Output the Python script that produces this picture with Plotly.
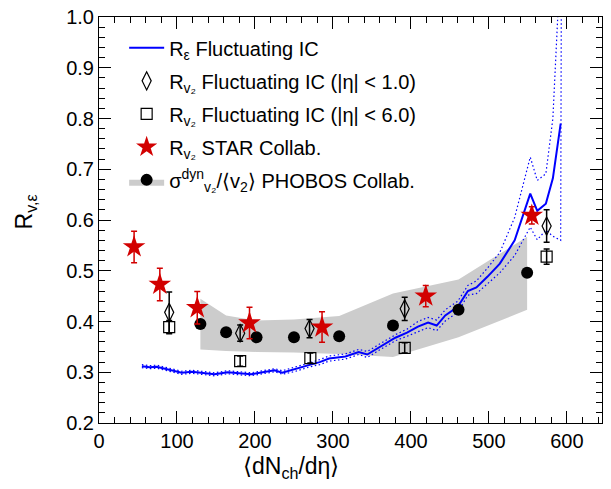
import plotly.graph_objects as go

# ---- data ----
eps_x = [55, 65, 74, 85, 96, 106, 119, 133, 148, 165, 180, 195, 210, 225, 235, 250, 269, 283, 295,
         316, 333, 344, 363, 380, 395, 409, 422, 433, 444, 460, 473, 484, 498, 514, 533, 553, 562,
         573, 582, 592]
eps_y = [0.312, 0.310, 0.311, 0.307, 0.303, 0.299, 0.301, 0.298, 0.296, 0.300, 0.298, 0.296, 0.300,
         0.304, 0.299, 0.305, 0.314, 0.320, 0.327, 0.331, 0.340, 0.335, 0.353, 0.368, 0.378, 0.390,
         0.398, 0.392, 0.412, 0.429, 0.460, 0.467, 0.488, 0.514, 0.560, 0.652, 0.618, 0.632, 0.682,
         0.790]
eps_up = [0.315, 0.313, 0.314, 0.310, 0.306, 0.302, 0.304, 0.301, 0.299, 0.303, 0.301, 0.299, 0.303,
          0.307, 0.303, 0.309, 0.318, 0.325, 0.332, 0.336, 0.345, 0.341, 0.359, 0.374, 0.385, 0.400,
          0.408, 0.403, 0.423, 0.440, 0.471, 0.480, 0.505, 0.536, 0.605, 0.724, 0.678, 0.691, 0.800,
          1.120]
eps_lo_x = eps_x + [593]
eps_lo = [0.309, 0.307, 0.308, 0.304, 0.300, 0.296, 0.298, 0.295, 0.293, 0.297, 0.295, 0.293, 0.297,
          0.301, 0.296, 0.301, 0.310, 0.315, 0.322, 0.326, 0.335, 0.329, 0.347, 0.362, 0.371, 0.380,
          0.388, 0.382, 0.401, 0.418, 0.452, 0.455, 0.475, 0.496, 0.530, 0.586, 0.561, 0.580, 0.568,
          0.560, 1.120]

star_x = [45, 78, 126, 193, 286, 419, 555]
star_y = [0.547, 0.473, 0.427, 0.397, 0.389, 0.450, 0.609]
star_err = [0.031, 0.032, 0.032, 0.031, 0.030, 0.021, 0.017]

eta1_x = [90, 181, 270, 392, 574]
eta1_y = [0.418, 0.377, 0.386, 0.425, 0.588]
eta1_err = [0.040, 0.016, 0.018, 0.023, 0.032]

eta6_x = [90, 181, 271, 392, 574]
eta6_y = [0.389, 0.322, 0.328, 0.348, 0.528]
eta6_err = [0.013, 0.010, 0.010, 0.010, 0.015]

phobos_x = [130, 163, 202, 250, 308, 377, 461, 549]
phobos_y = [0.395, 0.379, 0.369, 0.369, 0.371, 0.392, 0.423, 0.496]
phobos_hi = [0.445, 0.412, 0.402, 0.404, 0.411, 0.455, 0.483, 0.567]
phobos_lo = [0.345, 0.342, 0.340, 0.339, 0.336, 0.330, 0.369, 0.423]

FONT = "Arial"
BLUE = "rgb(0,0,255)"
RED = "rgb(210,0,0)"
GRAY = "rgb(204,204,204)"

fig = go.Figure()

# PHOBOS band (first point is an off-axis legend helper, then the polygon)
band_x = [-100, None] + phobos_x + phobos_x[::-1]
band_y = [-1, None] + phobos_hi + phobos_lo[::-1]
band_colors = ["black"] + ["rgba(0,0,0,0)"] * (len(band_x) - 1)
fig.add_trace(go.Scatter(
    x=band_x, y=band_y, mode="markers", fill="toself", fillcolor=GRAY,
    marker=dict(color=band_colors, size=12, line=dict(width=0)),
    name="σ<sup>dyn</sup><sub>v₂</sub>/⟨v<sub>2</sub>⟩ PHOBOS Collab.",
    legendrank=5, legendgroup="g5", hoverinfo="skip"))

fig.add_trace(go.Scatter(x=eps_x, y=eps_up, mode="lines",
                         line=dict(color=BLUE, width=1.2, dash="1.5px,2.5px"), showlegend=False))
fig.add_trace(go.Scatter(x=eps_lo_x, y=eps_lo, mode="lines",
                         line=dict(color=BLUE, width=1.2, dash="1.5px,2.5px"), showlegend=False))
fig.add_trace(go.Scatter(x=eps_x, y=eps_y, mode="lines",
                         line=dict(color=BLUE, width=2),
                         name="R<sub>ε</sub> Fluctuating IC", legendrank=1, legendgroup="g1"))

fig.add_trace(go.Scatter(x=phobos_x, y=phobos_y, mode="markers",
                         marker=dict(color="black", size=12), showlegend=False))

fig.add_trace(go.Scatter(
    x=eta6_x, y=eta6_y, mode="markers",
    marker=dict(symbol="square-open", size=11, color="black", line=dict(width=1.2)),
    error_y=dict(type="data", array=eta6_err, color="black", thickness=1.5, width=3),
    name="R<sub>v₂</sub> Fluctuating IC (|η| &lt; 6.0)", legendrank=3, legendgroup="g3"))

fig.add_trace(go.Scatter(
    x=eta1_x, y=eta1_y, mode="markers",
    marker=dict(symbol="diamond-tall-open", size=13, color="black", line=dict(width=1.2)),
    error_y=dict(type="data", array=eta1_err, color="black", thickness=1.5, width=3),
    name="R<sub>v₂</sub> Fluctuating IC (|η| &lt; 1.0)", legendrank=2, legendgroup="g2"))

fig.add_trace(go.Scatter(
    x=star_x, y=star_y, mode="markers",
    marker=dict(symbol="star", size=17, color=RED, line=dict(width=0)),
    error_y=dict(type="data", array=star_err, color=RED, thickness=1.5, width=3),
    name="R<sub>v₂</sub> STAR Collab.", legendrank=4, legendgroup="g4"))

axis_common = dict(
    showline=True, linecolor="black", linewidth=1, mirror="allticks",
    ticks="inside", ticklen=12, tickwidth=1, tickcolor="black",
    showgrid=False, zeroline=False, automargin=False, ticklabeloverflow="allow",
    tickfont=dict(family=FONT, size=20, color="black"),
)
fig.update_xaxes(range=[0, 645], dtick=100, tick0=0,
                 minor=dict(dtick=20, ticks="inside", ticklen=6, tickcolor="black"),
                 **axis_common)
fig.update_yaxes(range=[0.2, 1.0], dtick=0.1, tick0=0.2, tickformat=".1f",
                 minor=dict(dtick=0.02, ticks="inside", ticklen=6, tickcolor="black"),
                 **axis_common)

fig.add_annotation(text="⟨dN<sub>ch</sub>/dη⟩", xref="paper", yref="paper",
                   x=0.381, y=-0.11, xanchor="center", yanchor="middle", showarrow=False,
                   font=dict(family=FONT, size=23, color="black"))
fig.add_annotation(text="R<sub>v,ε</sub>", xref="paper", yref="paper", textangle=-90,
                   x=-0.146, y=0.52, xanchor="center", yanchor="middle", showarrow=False,
                   font=dict(family=FONT, size=23, color="black"))

fig.update_layout(
    width=611, height=489,
    margin=dict(l=98.5, r=9.3, t=16.7, b=66.3, autoexpand=False),
    paper_bgcolor="white", plot_bgcolor="white",
    font=dict(family=FONT, color="black"),
    legend=dict(x=0.05, y=0.972, xanchor="left", yanchor="top",
                bgcolor="rgba(0,0,0,0)", font=dict(family=FONT, size=20, color="black"),
                tracegroupgap=4, itemwidth=35),
)

# remove the browser's default page margin so the figure fills the window exactly
fig.write_html("out.html",
               config={"displayModeBar": False},
               post_script="document.body.style.margin='0';document.body.style.overflow='hidden';")
